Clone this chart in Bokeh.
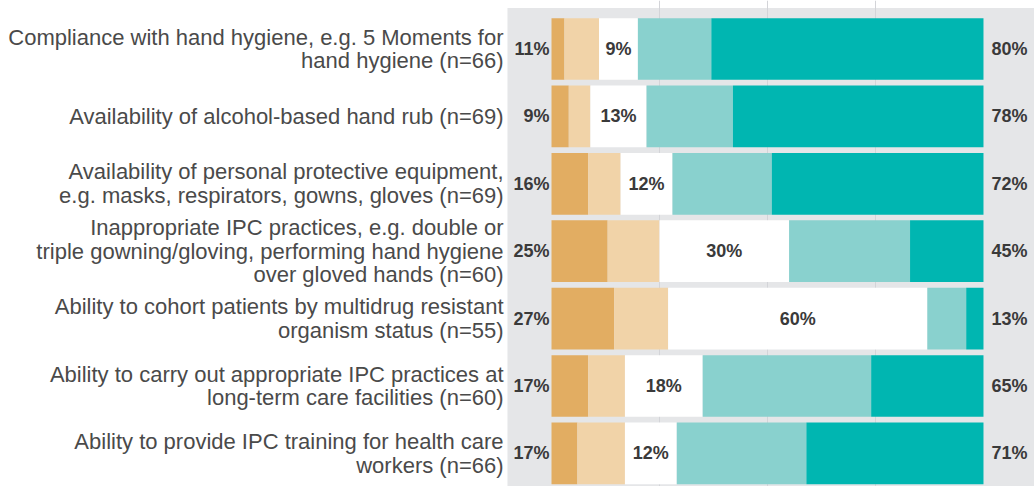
import numpy as np
from bokeh.plotting import figure
from bokeh.models import ColumnDataSource, Range1d, BoxAnnotation, FixedTicker, Grid
from bokeh.core.properties import value
from bokeh.embed import file_html
from bokeh.resources import INLINE

categories = [
    "Compliance with hand hygiene, e.g. 5 Moments for\nhand hygiene (n=66)",
    "Availability of alcohol-based hand rub (n=69)",
    "Availability of personal protective equipment,\ne.g. masks, respirators, gowns, gloves (n=69)",
    "Inappropriate IPC practices, e.g. double or\ntriple gowning/gloving, performing hand hygiene\nover gloved hands (n=60)",
    "Ability to cohort patients by multidrug resistant\norganism status (n=55)",
    "Ability to carry out appropriate IPC practices at\nlong-term care facilities (n=60)",
    "Ability to provide IPC training for health care\nworkers (n=66)",
]
strongly_negative = [3, 4, 8.5, 13, 14.5, 8.5, 6]
negative = [8, 5, 7.5, 12, 12.5, 8.5, 11]
neutral = [9, 13, 12, 30, 60, 18, 12]
positive = [17, 20, 23, 28, 9, 39, 30]
strongly_positive = [63, 58, 49, 17, 4, 26, 41]
left_labels = ["11%", "9%", "16%", "25%", "27%", "17%", "17%"]
mid_labels = ["9%", "13%", "12%", "30%", "60%", "18%", "12%"]
right_labels = ["80%", "78%", "72%", "45%", "13%", "65%", "71%"]

colors = ["#E2AD62", "#F1D3A8", "#FFFFFF", "#89D1CE", "#00B6B1"]
keys = ["s1", "s2", "s3", "s4", "s5"]

ypos = list(range(len(categories)))
src = ColumnDataSource(dict(
    y=ypos, s1=strongly_negative, s2=negative, s3=neutral, s4=positive, s5=strongly_positive,
))

sn = np.array(strongly_negative)
ng = np.array(negative)
nu = np.array(neutral)
mid_x = sn + ng + nu / 2.0
total = sn + ng + nu + np.array(positive) + np.array(strongly_positive)

p = figure(width=1034, height=486, output_backend="svg", toolbar_location=None,
           x_range=Range1d(-127.55, 111.81), y_range=Range1d(6.491, -0.7196),
           x_axis_type=None, y_axis_type=None, min_border=0,
           background_fill_color="white", border_fill_color="white")
p.outline_line_color = None

panel = BoxAnnotation(left=-10.19, top=-0.608, fill_color="#E5E6E8", fill_alpha=1.0,
                      line_color=None, level="image")
p.add_layout(panel)
p.add_layout(Grid(dimension=0, ticker=FixedTicker(ticks=[25, 50, 75]),
                  grid_line_color="#D3D4D8", grid_line_width=1))

p.hbar_stack(keys, y="y", height=0.915, color=colors, line_color=None, source=src)

font = value("Liberation Sans")
p.text(x=[-11.1] * len(categories), y=ypos, text=categories, text_align="right",
       text_baseline="middle", text_font=font, text_font_size="22px",
       text_color="#4a4a4a", text_line_height=0.95)
p.text(x=[0] * len(ypos), y=ypos, text=left_labels, text_align="right", x_offset=-2,
       text_baseline="middle", text_font=font, text_font_size="18px",
       text_font_style="bold", text_color="#3a3a3a")
p.text(x=mid_x, y=ypos, text=mid_labels, text_align="center",
       text_baseline="middle", text_font=font, text_font_size="18px",
       text_font_style="bold", text_color="#3a3a3a")
p.text(x=total, y=ypos, text=right_labels, text_align="left", x_offset=8,
       text_baseline="middle", text_font=font, text_font_size="18px",
       text_font_style="bold", text_color="#3a3a3a")

open("out.html", "w").write(file_html(p, INLINE))
